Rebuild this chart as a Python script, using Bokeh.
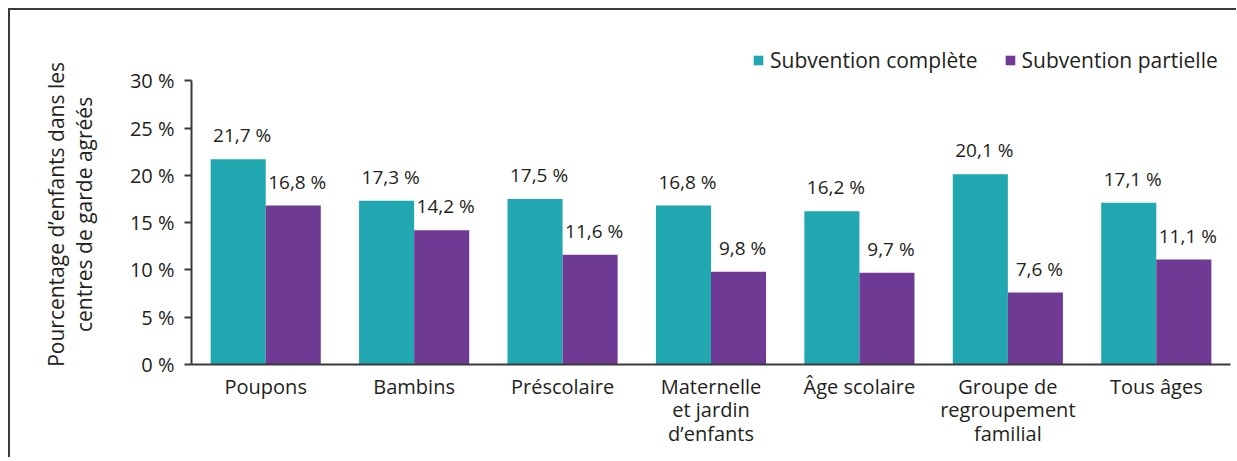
from bokeh.plotting import figure
from bokeh.layouts import column
from bokeh.models import (FactorRange, Range1d, ColumnDataSource, Legend, LegendItem,
                          CustomJSTickFormatter, FixedTicker, LabelSet)
from bokeh.core.properties import value
from bokeh.transform import dodge
from bokeh.embed import file_html
from bokeh.resources import INLINE

categories = ["Poupons", "Bambins", "Préscolaire", "Maternelle\net jardin\nd’enfants",
              "Âge scolaire", "Groupe de\nregroupement\nfamilial", "Tous âges"]
complete = [21.7, 17.3, 17.5, 16.8, 16.2, 20.1, 17.1]
partial = [16.8, 14.2, 11.6, 9.8, 9.7, 7.6, 11.1]
y_ticks = [0, 5, 10, 15, 20, 25, 30]
series_names = ["Subvention complète", "Subvention partielle"]
y_title_lines = ["Pourcentage d’enfants dans les", "centres de garde agréés"]

TEAL = "#21A7AF"
PURPLE = "#6E3A93"
TXT = "#231F20"
LINE = "#3a3a3a"
FONT = "Open Sans"
PAD = "\u00a0" * 4  # nudges the rotated title down to sit centred on the 0-30 % span


def fmt(v):
    return f"{v:.1f}".replace(".", ",") + " %"


src = ColumnDataSource(dict(
    cat=categories,
    complete=complete,
    partial=partial,
    complete_lbl=[fmt(v) for v in complete],
    partial_lbl=[fmt(v) for v in partial],
))

p = figure(frame_width=1037, frame_height=320, output_backend="svg", toolbar_location=None,
           x_range=FactorRange(*categories, range_padding=0),
           y_range=Range1d(0, 34.04),
           min_border_left=181, min_border_right=8, min_border_top=32, min_border_bottom=95)
p.styles = {"border-top": f"2px solid {LINE}", "border-left": f"2px solid {LINE}"}

bw = 0.371
r1 = p.vbar(x=dodge("cat", -bw / 2, range=p.x_range), top="complete", width=bw,
            source=src, fill_color=TEAL, line_color=None)
r2 = p.vbar(x=dodge("cat", bw / 2, range=p.x_range), top="partial", width=bw,
            source=src, fill_color=PURPLE, line_color=None)

for col, off in (("complete", -bw / 2), ("partial", bw / 2)):
    lbl = LabelSet(x=dodge("cat", off, range=p.x_range), y=col, text=col + "_lbl", source=src,
                   text_align="center", text_baseline="alphabetic", y_offset=17, x_offset=4,
                   text_font=value(FONT), text_font_size="19px", text_color=TXT)
    p.add_layout(lbl)

legend = Legend(items=[LegendItem(label=series_names[0], renderers=[r1]),
                       LegendItem(label=series_names[1], renderers=[r2])],
                orientation="horizontal", location=(561, 290),
                glyph_width=12, glyph_height=12, label_standoff=6, spacing=26,
                padding=0, margin=0, border_line_color=None, background_fill_alpha=0,
                label_text_font=FONT, label_text_font_size="21px", label_text_color=TXT)
p.add_layout(legend)

p.xgrid.visible = False
p.ygrid.visible = False
p.outline_line_color = None

p.yaxis.ticker = FixedTicker(ticks=y_ticks)
p.yaxis.bounds = (0, 30)
p.yaxis.formatter = CustomJSTickFormatter(code="return tick + ' %'")
p.yaxis.minor_tick_line_color = None
p.yaxis.major_tick_in = 0
p.yaxis.major_tick_out = 7
p.yaxis.major_label_standoff = 10
p.yaxis.axis_label = "\n".join(line + PAD for line in y_title_lines)
p.yaxis.axis_label_standoff = 29
p.yaxis.axis_label_text_font_style = "normal"
p.yaxis.axis_label_text_line_height = 1.0

p.xaxis.major_tick_in = 0
p.xaxis.major_tick_out = 0
p.xaxis.major_label_standoff = 8
p.xaxis.major_label_text_line_height = 0.88
p.xaxis.minor_tick_line_color = None

for ax in (p.xaxis, p.yaxis):
    ax.axis_line_color = LINE
    ax.axis_line_width = 2
    ax.major_tick_line_color = LINE
    ax.major_tick_line_width = 2
    ax.major_label_text_font = FONT
    ax.major_label_text_font_size = "20px"
    ax.major_label_text_color = TXT
    ax.axis_label_text_font = FONT
    ax.axis_label_text_font_size = "21px"
    ax.axis_label_text_color = TXT

page = column(p, styles={"padding-left": "8px", "padding-top": "8px"})

open("out.html", "w").write(file_html(page, INLINE))
